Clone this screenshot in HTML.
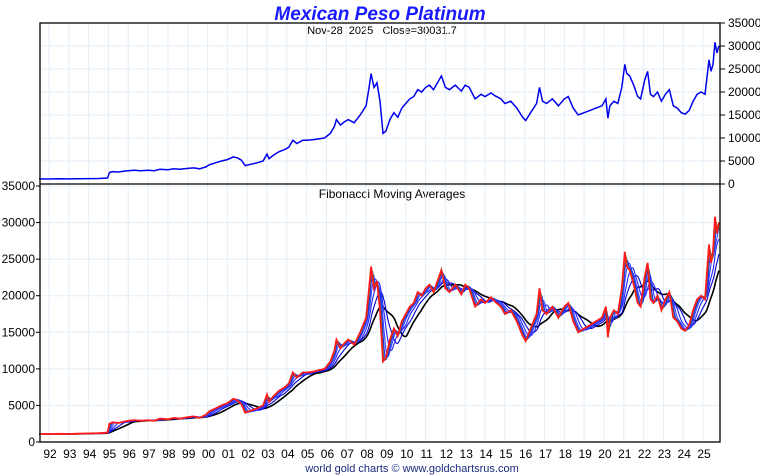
<!DOCTYPE html>
<html><head><meta charset="utf-8">
<style>
body{margin:0;background:#fff;}
svg{display:block;font-family:"Liberation Sans",sans-serif;}
</style></head>
<body>
<svg id="chart" width="760" height="475" viewBox="0 0 760 475">
<text x="380" y="20" text-anchor="middle" font-size="19" font-weight="bold" font-style="italic" fill="#1a1aff">Mexican Peso Platinum</text>
<text x="382" y="34" text-anchor="middle" font-size="11" fill="#000" style="white-space:pre">Nov-28  2025   Close=30031.7</text>
<text x="392" y="198" text-anchor="middle" font-size="12" fill="#000">Fibonacci Moving Averages</text>
<text x="412" y="472" text-anchor="middle" font-size="11" fill="#1a2a80">world gold charts © www.goldchartsrus.com</text>
<g id="grid"></g>
<g id="series"></g>
<g id="axes"></g>
</svg>
<script>
const years = [1991.5,1992.0,1992.5,1993.0,1993.5,1994.0,1994.5,1994.95,1995.05,1995.2,1995.5,1995.8,1996.0,1996.3,1996.6,1997.0,1997.3,1997.6,1998.0,1998.3,1998.6,1999.0,1999.3,1999.6,1999.9,2000.1,2000.4,2000.7,2001.0,2001.3,2001.5,2001.7,2001.9,2002.2,2002.5,2002.8,2003.0,2003.1,2003.3,2003.6,2003.9,2004.1,2004.3,2004.5,2004.8,2005.0,2005.3,2005.6,2005.9,2006.2,2006.4,2006.5,2006.7,2006.9,2007.1,2007.4,2007.7,2008.0,2008.15,2008.25,2008.4,2008.55,2008.7,2008.85,2009.0,2009.2,2009.4,2009.6,2009.8,2010.0,2010.2,2010.4,2010.6,2010.8,2011.0,2011.2,2011.4,2011.6,2011.8,2012.0,2012.2,2012.5,2012.8,2013.0,2013.2,2013.5,2013.8,2014.0,2014.3,2014.5,2014.8,2015.0,2015.3,2015.6,2015.9,2016.05,2016.3,2016.6,2016.75,2016.9,2017.1,2017.4,2017.7,2018.0,2018.2,2018.45,2018.7,2019.0,2019.3,2019.6,2019.9,2020.1,2020.2,2020.3,2020.5,2020.7,2020.9,2021.05,2021.15,2021.3,2021.5,2021.7,2021.85,2022.05,2022.2,2022.35,2022.5,2022.7,2022.9,2023.1,2023.3,2023.5,2023.7,2023.9,2024.1,2024.3,2024.5,2024.7,2024.9,2025.1,2025.3,2025.4,2025.5,2025.6,2025.7,2025.8,2025.85,2025.91];
const prices = [1100,1080,1120,1100,1150,1180,1200,1300,2500,2700,2600,2800,2900,3000,2900,3000,2900,3200,3100,3300,3200,3400,3500,3300,3700,4200,4600,5000,5300,5900,5700,5200,4000,4300,4600,5000,6500,5500,6200,7000,7500,8000,9500,8800,9500,9500,9600,9800,10000,11000,12500,14000,12800,13500,14000,13300,15000,17000,21000,24000,21000,22000,18000,11000,11500,14000,15500,14500,16500,17500,18500,19000,20500,20000,21000,21500,20500,22000,23500,21000,20500,21500,20200,21500,21000,18500,19500,19000,19800,19200,18500,17500,18000,16500,14500,13800,15500,17500,21000,18000,17500,18500,17000,18500,19000,16500,15000,15500,16000,16500,17000,18500,14300,17000,18000,17500,21000,26000,24000,23500,21500,19000,18500,22500,24500,19500,19000,20000,18000,19500,20500,17000,16500,15500,15200,16000,18000,19500,20000,19500,27000,24500,26000,30800,28500,30030];
const yTicks = [0,5000,10000,15000,20000,25000,30000,35000];
const xTickYears = [1992,1993,1994,1995,1996,1997,1998,1999,2000,2001,2002,2003,2004,2005,2006,2007,2008,2009,2010,2011,2012,2013,2014,2015,2016,2017,2018,2019,2020,2021,2022,2023,2024,2025];
const maWindows = [1.25,0.8,0.5,0.3,0.18,0.1];
const maColors = ["#000","#0000cc","#2222ff","#3344ff","#1a1aff","#2a8a4a"];

const NS="http://www.w3.org/2000/svg";
const L=40,R=720,T1=23,B1=184,B2=442;
const xs=t=>49+(t-1992)*19.82;
const yTop=v=>B1-v/35000*(B1-T1);
const yBot=v=>B2-v/35000*(B2-B1-2);
function mk(tag,attrs,parent){const e=document.createElementNS(NS,tag);for(const k in attrs)e.setAttribute(k,attrs[k]);parent.appendChild(e);return e;}
const gridG=document.getElementById('grid'),serG=document.getElementById('series'),axG=document.getElementById('axes');

xTickYears.forEach(t=>{
  const g=mk('line',{x1:xs(t),x2:xs(t),y1:T1,y2:B2,stroke:'#e2eef8','stroke-width':1},gridG);
  
  
  const lb=mk('text',{x:xs(t)+1,y:458,'text-anchor':'middle','font-size':12,fill:'#000'},axG);
  lb.textContent=String(t%100).padStart(2,'0');
  
  
});
yTicks.forEach(v=>{
  const g1=mk('line',{x1:L,x2:R,y1:yTop(v),y2:yTop(v),stroke:'#e2eef8'},gridG);
  
  
  const g2=mk('line',{x1:L,x2:R,y1:yBot(v),y2:yBot(v),stroke:'#e2eef8'},gridG);
  
  
  mk('line',{x1:R,x2:R+5,y1:yTop(v),y2:yTop(v),stroke:'#000'},axG);
  const t1=mk('text',{x:R+8,y:yTop(v)+4,'font-size':12,fill:'#000'},axG);
  t1.textContent=v;
  
  
  mk('line',{x1:L-4,x2:L,y1:yBot(v),y2:yBot(v),stroke:'#000'},axG);
  const t2=mk('text',{x:L-5,y:yBot(v)+4,'font-size':12,fill:'#000','text-anchor':'end'},axG);
  t2.textContent=v;
  
  
});
const fr=mk('rect',{x:L,y:T1,width:R-L,height:B2-T1,fill:'none',stroke:'#000','stroke-width':1.3},axG);


const sep=mk('line',{x1:L,x2:R,y1:B1,y2:B1,stroke:'#000','stroke-width':1.3},axG);



function pts(ts,vs,yf){return ts.map((t,i)=>xs(t).toFixed(1)+','+yf(vs[i]).toFixed(1)).join(' ');}
const priceTopLine=mk('polyline',{points:pts(years,prices,yTop),fill:'none',stroke:'#0000ee','stroke-width':1.5},serG);



function interp(t){if(t<=years[0])return prices[0];for(let i=1;i<years.length;i++){if(t<=years[i]){const f=(t-years[i-1])/(years[i]-years[i-1]);return prices[i-1]+f*(prices[i]-prices[i-1]);}}return prices[prices.length-1];}
const step=0.02;const tsArr=[];for(let t=years[0];t<=years[years.length-1]+1e-9;t+=step)tsArr.push(t);
const dense=tsArr.map(interp);
maWindows.forEach((w,k)=>{
  const n=Math.max(1,Math.round(w/step));
  const vs=dense.map((_,i)=>{let s=0,c=0;for(let j=Math.max(0,i-n+1);j<=i;j++){s+=dense[j];c++;}return s/c;});
  const p=mk('polyline',{points:pts(tsArr,vs,yBot),fill:'none',stroke:maColors[k],'stroke-width':k==0?1.6:1.1},serG);
  
  
});
const redLine=mk('polyline',{points:pts(years,prices,yBot),fill:'none',stroke:'#ff1a1a','stroke-width':1.8},serG);


</script>
</body></html>
